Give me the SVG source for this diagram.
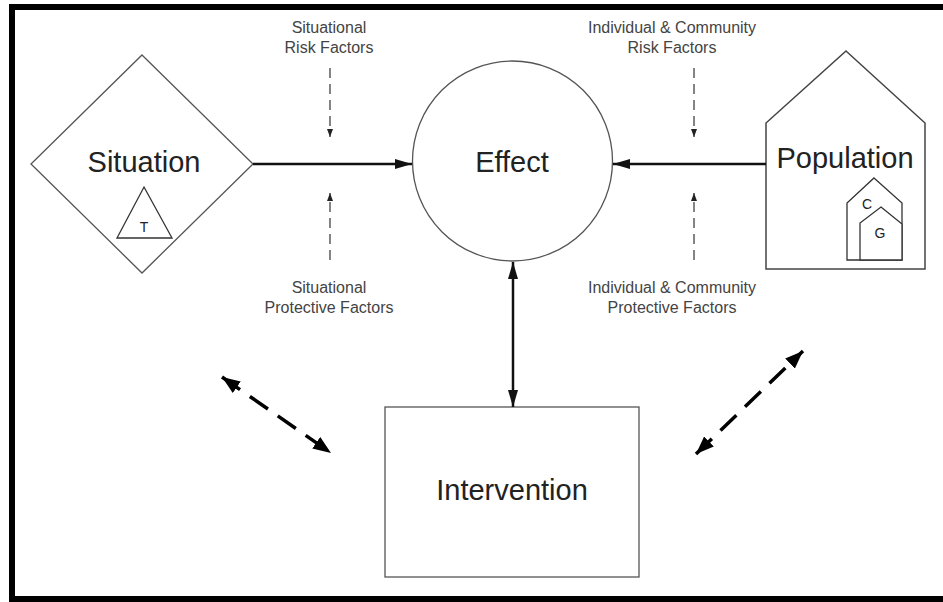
<svg xmlns="http://www.w3.org/2000/svg" width="943" height="602" viewBox="0 0 943 602">
<style>
.shape{fill:#fff;stroke:#555;stroke-width:1.3}
.big{font-family:"Liberation Sans",Arial,sans-serif;font-size:29px;fill:#222;text-anchor:middle}
.small{font-family:"Liberation Sans",Arial,sans-serif;font-size:16px;fill:#444;text-anchor:middle}
.tiny{font-family:"Liberation Sans",Arial,sans-serif;font-size:14px;fill:#222;text-anchor:middle}
.solid{stroke:#111;stroke-width:2.5;fill:none}
.risk{stroke:#444;stroke-width:1.3;stroke-dasharray:10 6;fill:none}
.diag{stroke:#000;stroke-width:3.5;stroke-dasharray:22 12;fill:none}
</style>
<defs>
<marker id="ah" markerUnits="userSpaceOnUse" markerWidth="17" markerHeight="11" refX="17" refY="5.5" orient="auto-start-reverse"><path d="M0,0.5 L17,5.5 L0,10.5 z" fill="#111"/></marker>
<marker id="sm" markerUnits="userSpaceOnUse" markerWidth="8" markerHeight="6" refX="8" refY="3" orient="auto"><path d="M0,0 L8,3 L0,6 z" fill="#222"/></marker>
<marker id="dg" markerUnits="userSpaceOnUse" markerWidth="18" markerHeight="14" refX="18" refY="7" orient="auto-start-reverse"><path d="M0,0 L18,7 L0,14 z" fill="#000"/></marker>
</defs>
<rect width="943" height="602" fill="#fff"/>
<rect x="12" y="7" width="945" height="592" fill="none" stroke="#000" stroke-width="6"/>

<g id="situation">
<polygon class="shape" points="142,55 253,164 142,273 31,164"/>
<text class="big" x="144" y="172">Situation</text>
<polygon class="shape" points="144,187 172,238 117,238" style="stroke:#333"/>
<text class="tiny" x="144" y="232">T</text>
</g>

<g id="effect">
<circle class="shape" cx="512.5" cy="161" r="100"/>
<text class="big" x="512" y="172">Effect</text>
</g>

<g id="population">
<polygon class="shape" points="846,51 925,123 925,269 766,269 766,123" style="stroke:#444;stroke-width:1.5"/>
<text class="big" x="845" y="168">Population</text>
<polygon class="shape" points="874,178 902,203 902,260 847,260 847,203" style="stroke:#333"/>
<polygon class="shape" points="881,207 902,224 902,260 860,260 860,223" style="stroke:#333"/>
<text class="tiny" x="867" y="209">C</text>
<text class="tiny" x="880" y="238">G</text>
</g>

<g id="intervention">
<rect class="shape" x="385" y="407" width="254" height="170"/>
<text class="big" x="512" y="500">Intervention</text>
</g>

<g id="labels">
<text class="small" x="329" y="33">Situational</text>
<text class="small" x="329" y="53">Risk Factors</text>
<text class="small" x="329" y="293">Situational</text>
<text class="small" x="329" y="313">Protective Factors</text>
<text class="small" x="672" y="33">Individual &amp; Community</text>
<text class="small" x="672" y="53">Risk Factors</text>
<text class="small" x="672" y="293">Individual &amp; Community</text>
<text class="small" x="672" y="313">Protective Factors</text>
</g>

<g id="connectors">
<line class="solid" x1="253" y1="164" x2="412" y2="164" marker-end="url(#ah)"/>
<line class="solid" x1="766" y1="164" x2="613" y2="164" marker-end="url(#ah)"/>
<line class="solid" x1="513" y1="262" x2="513" y2="407" marker-start="url(#ah)" marker-end="url(#ah)"/>
<line class="risk" x1="330" y1="68" x2="330" y2="137" marker-end="url(#sm)"/>
<line class="risk" x1="330" y1="260" x2="330" y2="193" marker-end="url(#sm)"/>
<line class="risk" x1="694" y1="68" x2="694" y2="137" marker-end="url(#sm)"/>
<line class="risk" x1="694" y1="260" x2="694" y2="193" marker-end="url(#sm)"/>
<line class="diag" x1="222" y1="377" x2="331" y2="453" marker-start="url(#dg)" marker-end="url(#dg)"/>
<line class="diag" x1="696" y1="454" x2="803" y2="351" marker-start="url(#dg)" marker-end="url(#dg)"/>
</g>
</svg>
